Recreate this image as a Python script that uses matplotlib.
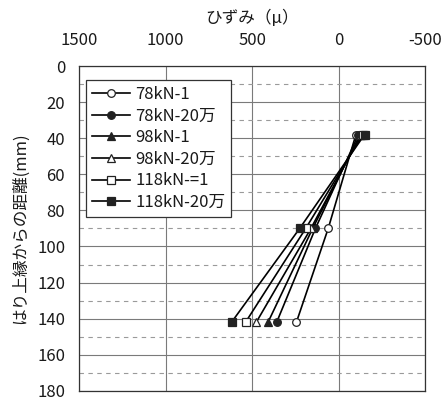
import matplotlib
matplotlib.use("Agg")
import matplotlib.pyplot as plt
from matplotlib.ticker import MultipleLocator

plt.rcParams['font.family'] = ['Noto Sans CJK JP', 'DejaVu Sans']

# gauge depth from the top edge of the beam (mm)
depth = [38, 90, 142]

# measured strain (micro) for each load case
s_78_1 = [-100, 60, 244]
s_78_20 = [-115, 134, 358]
s_98_1 = [-125, 150, 408]
s_98_20 = [-130, 160, 476]
s_118_1 = [-140, 190, 538]
s_118_20 = [-150, 225, 619]

labels = ["78kN-1", "78kN-20万", "98kN-1", "98kN-20万", "118kN-=1", "118kN-20万"]
series = [s_78_1, s_78_20, s_98_1, s_98_20, s_118_1, s_118_20]
markers = ["o", "o", "^", "^", "s", "s"]
filled = [False, True, True, False, False, True]

x_ticks = [1500, 1000, 500, 0, -500]
y_ticks = [0, 20, 40, 60, 80, 100, 120, 140, 160, 180]

fig = plt.figure(figsize=(4.47, 4.05), dpi=100)
ax = fig.add_axes([0.177, 0.035, 0.774, 0.802])

ax.set_xlim(1500, -500)
ax.set_ylim(180, 0)
ax.set_xticks(x_ticks)
ax.set_xticklabels([str(v) for v in x_ticks])
ax.set_yticks(y_ticks)
ax.yaxis.set_minor_locator(MultipleLocator(10))

ax.xaxis.tick_top()
ax.xaxis.set_label_position('top')
ax.tick_params(axis='x', which='both', length=0, pad=12, labelsize=12,
               labelcolor='#1a1a1a')
ax.tick_params(axis='y', which='both', length=0, pad=10, labelsize=12,
               labelcolor='#1a1a1a')

ax.grid(True, which='major', axis='both', color='#7a7a7a', lw=0.8, ls='-')
ax.grid(True, which='minor', axis='y', color='#9a9a9a', lw=0.8, ls=(0, (4, 4)))
ax.set_axisbelow(True)

for sp in ax.spines.values():
    sp.set_color('#333333')
    sp.set_linewidth(0.9)

for vals, lab, mk, fl in zip(series, labels, markers, filled):
    ax.plot(vals, depth, color='black', lw=1.2, marker=mk, markersize=5.5,
            markerfacecolor='#222222' if fl else 'white',
            markeredgecolor='#222222', markeredgewidth=0.9, label=lab)

ax.set_xlabel("ひずみ（μ）", fontsize=12, labelpad=7, color='#1a1a1a')
ax.set_ylabel("はり上縁からの距離(mm)", fontsize=12, labelpad=6, color='#1a1a1a')

leg = ax.legend(loc='upper left', bbox_to_anchor=(0.02, 0.957), fontsize=12,
                frameon=True, fancybox=False, framealpha=1, edgecolor='#333333',
                handlelength=2.3, handletextpad=0.3, labelspacing=0.28,
                borderpad=0.35, borderaxespad=0)
leg.get_frame().set_linewidth(0.9)
for t in leg.get_texts():
    t.set_color('#1a1a1a')

fig.savefig("out.png", dpi=100, facecolor='white')
